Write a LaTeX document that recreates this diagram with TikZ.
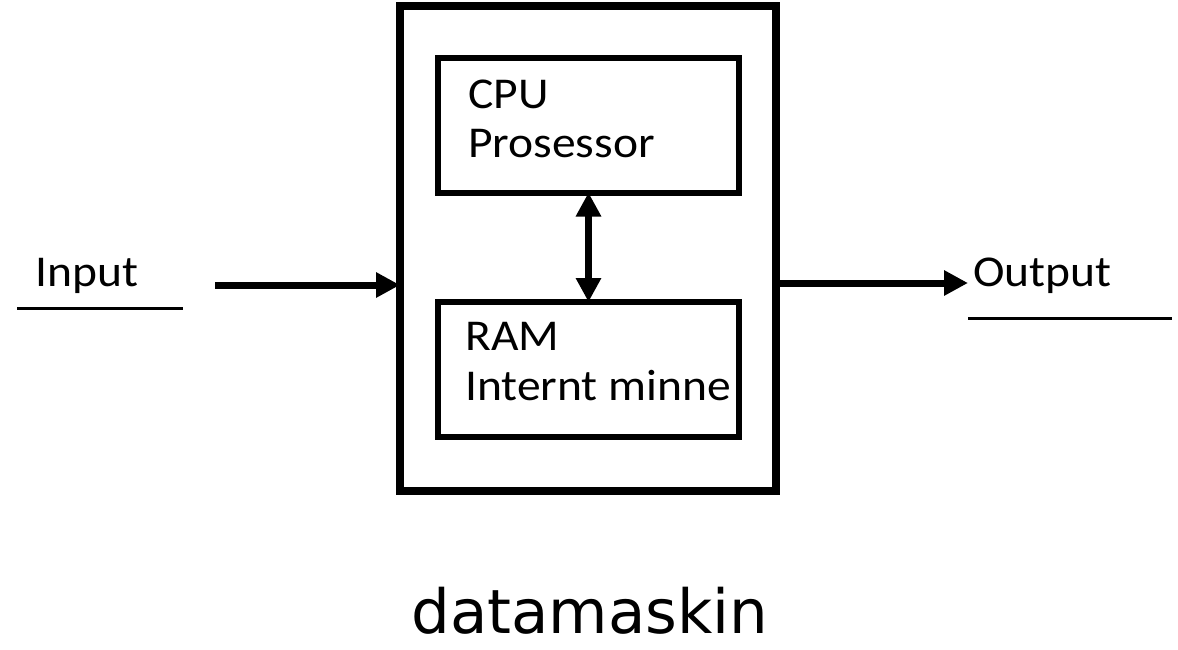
\documentclass[tikz,border=0pt]{standalone}
\usepackage{fontspec}
\usetikzlibrary{arrows.meta}
\newfontfamily\lblfont[FakeStretch=1.08]{Carlito}
\newfontfamily\capfont{DejaVu Sans}
\tikzset{
  outerbox/.style={draw, line width=8pt, minimum width=376pt, minimum height=485pt, outer sep=0pt, inner sep=0pt},
  innerbox/.style={draw, line width=6pt, minimum width=301pt, minimum height=135pt, outer sep=0pt, inner sep=0pt},
  lbl/.style={inner sep=0pt, anchor=base west, font=\lblfont\fontsize{44pt}{52pt}\selectfont},
  conn/.style={line width=7pt, -{Triangle[length=24pt,width=24pt]}},
  biconn/.style={line width=7pt, {Triangle[length=24pt,width=24pt]}-{Triangle[length=24pt,width=24pt]}},
  uline/.style={line width=3pt}
}
\begin{document}
\begin{tikzpicture}[x=1pt,y=-1pt]
\useasboundingbox (0,0) rectangle (1178,649);
\node[outerbox] (pc) at (588,248.5) {};
\node[innerbox] (cpu) at (588.5,125) {};
\node[innerbox] (ram) at (588.5,369.5) {};
\node[lbl] (cpuA) at (468,108) {CPU};
\node[lbl] (cpuB) at (468,157) {Prosessor};
\node[lbl] (ramA) at (465,350) {RAM};
\node[lbl] (ramB) at (465,400) {Internt minne};
\node[lbl] (in) at (35,286) {Input};
\node[lbl] (out) at (973,286) {Output};
\node[inner sep=0pt, anchor=base, font=\capfont\fontsize{61pt}{70pt}\selectfont] (cap) at (590,633) {datamaskin};
\coordinate (inS) at (215,285);
\coordinate (outE) at (968,283);
\draw[conn] (inS) -- (inS -| pc.west);
\draw[conn] (outE -| pc.east) -- (outE);
\draw[biconn] (cpu.south) -- (ram.north);
\coordinate (u1a) at (17,308);
\coordinate (u1b) at (183,308);
\coordinate (u2a) at (968,318);
\coordinate (u2b) at (1172,318);
\draw[uline] (u1a) -- (u1b);
\draw[uline] (u2a) -- (u2b);
\end{tikzpicture}
\end{document}
